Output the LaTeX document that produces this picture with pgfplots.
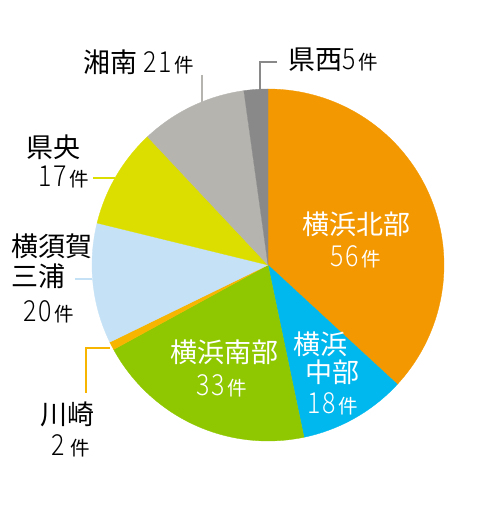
\documentclass[border=0pt]{standalone}
\usepackage{pgfplots}
\pgfplotsset{compat=1.18}
\usepackage{graphicx}
\usepackage{fontspec}
\setmainfont{Noto Sans CJK JP}
\newfontfamily\lightfont{Noto Sans CJK JP Light}
\definecolor{cOrange}{HTML}{F39800}
\definecolor{cCyan}{HTML}{00B7EE}
\definecolor{cGreen}{HTML}{8FC800}
\definecolor{cKawa}{HTML}{F8B500}
\definecolor{cLBlue}{HTML}{C4E1F5}
\definecolor{cYellow}{HTML}{DCDE00}
\definecolor{cGray}{HTML}{B5B4AF}
\definecolor{cDGray}{HTML}{898989}
% angular shares (degrees), clockwise from the top
\def\sA{132.7}% 横浜北部 56
\def\sB{35.5}%  横浜中部 18
\def\sC{73.1}%  横浜南部 33
\def\sD{2.7}%   川崎 2
\def\sE{39.8}%  横須賀三浦 20
\def\sF{33.0}%  県央 17
\def\sG{35.3}%  湘南 21
\def\sH{7.9}%   県西 5
\pgfmathsetmacro\tA{90}
\pgfmathsetmacro\tB{\tA-\sA}
\pgfmathsetmacro\tC{\tB-\sB}
\pgfmathsetmacro\tD{\tC-\sC}
\pgfmathsetmacro\tE{\tD-\sD}
\pgfmathsetmacro\tF{\tE-\sE}
\pgfmathsetmacro\tG{\tF-\sF}
\pgfmathsetmacro\tH{\tG-\sG}
\pgfmathsetmacro\tI{\tH-\sH}
\newcommand\jp[1]{{\fontsize{27}{27}\selectfont #1}}
\newcommand\dig[1]{{\lightfont\fontsize{29}{29}\selectfont\scalebox{0.86}[1]{\addfontfeature{LetterSpace=6}#1}}}
\newcommand\ken{\hspace{3pt}{\fontsize{19.5}{19.5}\selectfont 件}}
\pgfplotsset{sector/.style={draw=#1, fill=#1, line width=0.3pt, samples=120, variable=\t}}
\begin{document}
\begin{tikzpicture}
\begin{axis}[x=1pt, y=1pt, xmin=0, xmax=500, ymin=0, ymax=517,
  hide axis, clip=false, scale only axis]
\path (0,0) rectangle (500,517);
\addplot[sector=cOrange, domain=\tB:\tA] ({268+176*cos(\t)},{252+176*sin(\t)}) -- (268,252) -- cycle;
\addplot[sector=cCyan, domain=\tC:\tB] ({268+176*cos(\t)},{252+176*sin(\t)}) -- (268,252) -- cycle;
\addplot[sector=cGreen, domain=\tD:\tC] ({268+176*cos(\t)},{252+176*sin(\t)}) -- (268,252) -- cycle;
\addplot[sector=cKawa, domain=\tE:\tD, samples=10] ({268+176*cos(\t)},{252+176*sin(\t)}) -- (268,252) -- cycle;
\addplot[sector=cLBlue, domain=\tF:\tE] ({268+176*cos(\t)},{252+176*sin(\t)}) -- (268,252) -- cycle;
\addplot[sector=cYellow, domain=\tG:\tF] ({268+176*cos(\t)},{252+176*sin(\t)}) -- (268,252) -- cycle;
\addplot[sector=cGray, domain=\tH:\tG] ({268+176*cos(\t)},{252+176*sin(\t)}) -- (268,252) -- cycle;
\addplot[sector=cDGray, domain=\tI:\tH, samples=20] ({268+176*cos(\t)},{252+176*sin(\t)}) -- (268,252) -- cycle;
% leader lines
\draw[cDGray, line width=1.3pt] (277,455) -- (260,455) -- (260,427);
\draw[cGray, line width=1.3pt] (202,442) -- (202,415);
\draw[cYellow, line width=1.3pt] (93,339) -- (115,339);
\draw[cLBlue, line width=1.3pt] (75,238) -- (92,238);
\draw[cKawa, line width=1.3pt] (86,124) -- (86,169) -- (110,169);
% outside labels
\node[anchor=base west, inner sep=0pt] at (83,444) {\jp{湘南}\hspace{6pt}\dig{21}\ken};
\node[anchor=base west, inner sep=0pt] at (288,447) {\jp{県西}\dig{5}\ken};
\node[anchor=base west, inner sep=0pt] at (26,359) {\jp{県央}};
\node[anchor=base west, inner sep=0pt] at (38,330) {\dig{17}\ken};
\node[anchor=base west, inner sep=0pt] at (11,260) {\jp{横須賀}};
\node[anchor=base west, inner sep=0pt] at (11,230) {\jp{三浦}};
\node[anchor=base west, inner sep=0pt] at (23,195) {\dig{20}\ken};
\node[anchor=base west, inner sep=0pt] at (40,92) {\jp{川崎}};
\node[anchor=base west, inner sep=0pt] at (51,61) {\dig{2}\hspace{3pt}\ken};
% inside labels
\node[anchor=base, inner sep=0pt, text=white] at (356,282) {\jp{横浜北部}};
\node[anchor=base, inner sep=0pt, text=white] at (356,250) {\dig{56}\ken};
\node[anchor=base, inner sep=0pt, text=white] at (320,162) {\jp{横浜}};
\node[anchor=base, inner sep=0pt, text=white] at (332,134) {\jp{中部}};
\node[anchor=base, inner sep=0pt, text=white] at (333,103) {\dig{18}\ken};
\node[anchor=base, inner sep=0pt, text=white] at (224,154) {\jp{横浜南部}};
\node[anchor=base, inner sep=0pt, text=white] at (222,121) {\dig{33}\ken};
\end{axis}
\end{tikzpicture}
\end{document}
